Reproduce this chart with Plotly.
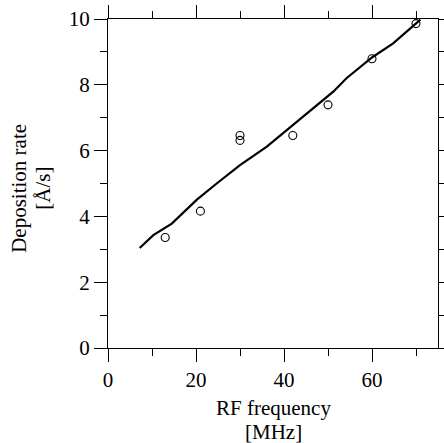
import plotly.graph_objects as go

# measured points
freq_pts = [13, 21, 30, 30, 42, 50, 60, 70]
rate_pts = [3.36, 4.16, 6.31, 6.46, 6.46, 7.39, 8.79, 9.86]

# fitted/simulated line
freq_line = [7.2, 10.3, 14.5, 20.2, 24.7, 30, 36.1, 40.6, 45.2, 48.6, 51.2, 54.2, 60, 64.8, 71.0]
rate_line = [3.04, 3.43, 3.78, 4.51, 5.0, 5.56, 6.12, 6.62, 7.13, 7.48, 7.79, 8.2, 8.83, 9.26, 9.98]

x_ticks = [0, 20, 40, 60]
y_ticks = [0, 2, 4, 6, 8, 10]
x_title_lines = ["RF frequency", "[MHz]"]
y_title_lines = ["Deposition rate", "[Å/s]"]

FONT = "Liberation Serif, Times New Roman, serif"
FS = 21

fig = go.Figure()
fig.add_trace(go.Scatter(x=freq_line, y=rate_line, mode="lines",
                         line=dict(color="black", width=2.2), showlegend=False))
fig.add_trace(go.Scatter(x=freq_pts, y=rate_pts, mode="markers",
                         marker=dict(symbol="circle-open", size=8, color="black",
                                     line=dict(width=1.1, color="black")),
                         showlegend=False, cliponaxis=False))

axis_common = dict(showline=True, linecolor="black", linewidth=1.3, mirror="allticks",
                   ticks="outside", ticklen=13, tickwidth=1.3, tickcolor="black",
                   showgrid=False, zeroline=False, automargin=False,
                   tickfont=dict(family=FONT, size=FS, color="black"))

fig.update_xaxes(range=[0, 75], tickvals=x_ticks, ticktext=[str(v) for v in x_ticks],
                 minor=dict(tickvals=[10, 30, 50, 70], ticklen=7, tickwidth=1.3,
                            tickcolor="black", ticks="outside"),
                 **axis_common)
fig.update_yaxes(range=[0, 10], tickvals=y_ticks, ticktext=[str(v) for v in y_ticks],
                 minor=dict(tickvals=[1, 3, 5, 7, 9], ticklen=7, tickwidth=1.3,
                            tickcolor="black", ticks="outside"),
                 **axis_common)

for txt, yy in zip(x_title_lines, [-0.1835, -0.2565]):
    fig.add_annotation(text=txt, xref="paper", yref="paper", x=0.5, y=yy,
                       xanchor="center", yanchor="middle", showarrow=False,
                       font=dict(family=FONT, size=FS, color="black"))
for txt, xx in zip(y_title_lines, [-0.2706, -0.198]):
    fig.add_annotation(text=txt, xref="paper", yref="paper", x=xx, y=0.486,
                       xanchor="center", yanchor="middle", showarrow=False, textangle=-90,
                       font=dict(family=FONT, size=FS, color="black"))

fig.update_layout(width=444, height=443, margin=dict(l=108, r=6, t=19, b=95, autoexpand=False),
                  plot_bgcolor="white", paper_bgcolor="white")

fig.write_html("out.html", config={"displayModeBar": False},
               post_script="document.body.style.margin='0';document.body.style.overflow='hidden';")
